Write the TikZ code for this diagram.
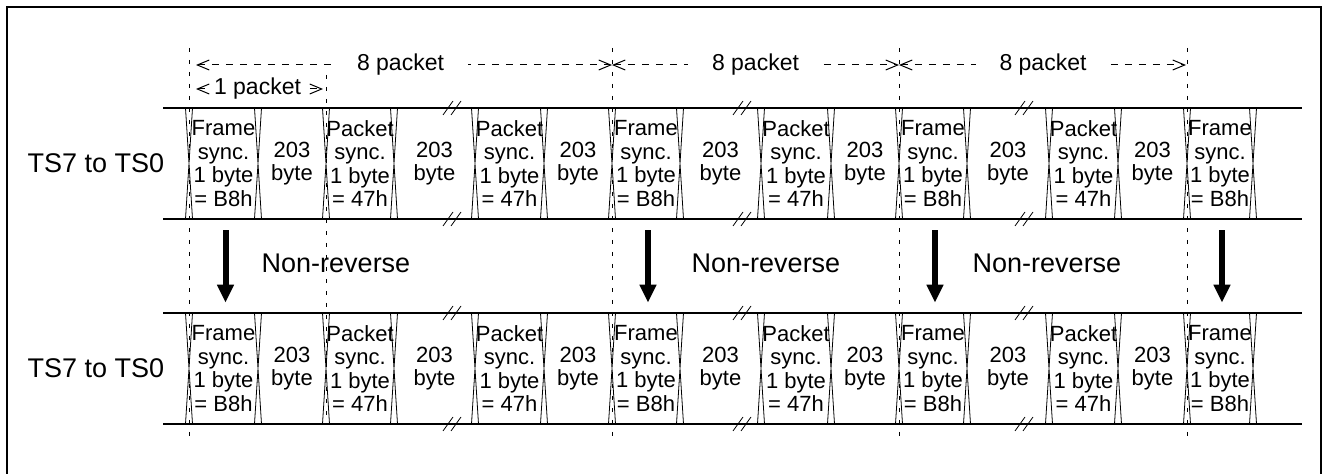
\documentclass[tikz,border=0pt]{standalone}
\usepackage{fontspec}
\setmainfont{Liberation Sans}
\usetikzlibrary{arrows.meta,positioning}
\newcommand{\framesync}{Frame\\sync.\\1 byte\\= B8h}
\newcommand{\packsync}{Packet\\sync.\\1 byte\\= 47h}
\newcommand{\dataword}{203\\byte}

\begin{document}
\begin{tikzpicture}[x=0.5pt,y=-0.5pt,
  cell/.style={inner sep=0pt,minimum height=55.5pt,align=center,font=\fontsize{11}{11.8}\selectfont},
  bus/.style={line width=1pt},
  xing/.style={line width=0.4pt},
  guide/.style={line width=0.5pt,dash pattern=on 2pt off 4pt},
  dimline/.style={line width=0.5pt,dash pattern=on 3.5pt off 3.5pt,{Straight Barb[length=6pt,width=5pt]}-{Straight Barb[length=6pt,width=5pt]}},
  dimlabel/.style={fill=white,inner ysep=1pt,inner xsep=12pt,font=\fontsize{11.5}{13}\selectfont},
  rowlabel/.style={font=\fontsize{13.5}{15}\selectfont},
  flowlabel/.style={font=\fontsize{13.5}{15}\selectfont},
  flow/.style={line width=3pt,-{Triangle[length=9pt,width=8pt]}},
  brk/.style={line width=0.4pt}
]
\useasboundingbox (0,0) rectangle (1324,474);
% outer frame, open at the bottom
\draw[line width=1pt] (6.5,474) -- (6.5,7) -- (1320.5,7) -- (1320.5,474);

% row labels
\node[rowlabel] (tsu) at (96,163.5) {TS7 to TS0};
\node[rowlabel] (tsl) at (96,368.5) {TS7 to TS0};

% bus lines
\draw[bus] (163,108) -- (1302,108);
\draw[bus] (163,219) -- (1302,219);
\draw[bus] (163,313) -- (1302,313);
\draw[bus] (163,424) -- (1302,424);

% byte cells of both rows
\foreach \r/\yc in {u/163.5,l/368.5}
  \foreach \i/\a/\b/\txt in {1/189/258/\framesync,2/258/326/\dataword,3/326/394/\packsync,
      4/394/475/\dataword,5/475/544/\packsync,6/544/612/\dataword,7/612/680/\framesync,
      8/680/761/\dataword,9/761/831/\packsync,10/831/899/\dataword,11/899/967/\framesync,
      12/967/1049/\dataword,13/1049/1118/\packsync,14/1118/1187/\dataword,15/1187/1253/\framesync}
    \node[cell,minimum width={(\b-\a)*0.5pt}] (\r\i) at ({(\a+\b)/2},\yc) {\txt};

% transitions
\foreach \t in {189,258,326,394,475,544,612,680,761,831,899,967,1049,1118,1187,1253}
  \foreach \yt/\yb in {108/219,313/424}
    \draw[xing] (\t-3.5,\yt) -- (\t+3.5,\yb) (\t+3.5,\yt) -- (\t-3.5,\yb);

% break marks
\foreach \bx in {452,742,1024}
  \foreach \by in {108,219,313,424}
    \draw[brk] (\bx-9,\by+7) -- (\bx+1,\by-7) (\bx-1,\by+7) -- (\bx+9,\by-7);

% guide lines
\coordinate (g0) at (189,48);
\coordinate (g1) at (326,75);
\coordinate (g2) at (612,48);
\coordinate (g3) at (899,48);
\coordinate (g4) at (1187,48);
\draw[guide] (g0) -- (189,440);
\draw[guide] (g1) -- (326,424);
\draw[guide] (g2) -- (612,440);
\draw[guide] (g3) -- (899,440);
\draw[guide] (g4) -- (1187,440);

% dimensions
\coordinate (p0) at (189,65);
\coordinate (p1) at (612,65);
\coordinate (p2) at (899,65);
\coordinate (p3) at (1187,65);
\draw[dimline,shorten <=3.5pt] (p0) -- node[dimlabel] (pk1) {8 packet} (p1);
\draw[dimline] (p1) -- node[dimlabel] (pk2) {8 packet} (p2);
\draw[dimline,shorten >=0.5pt] (p2) -- node[dimlabel] (pk3) {8 packet} (p3);
\coordinate (q0) at (189,89);
\coordinate (q1) at (326,89);
\draw[dimline,shorten <=3.5pt,shorten >=1.5pt] (q0) -- node[dimlabel,inner xsep=2pt] (one) {1 packet} (q1);

% non-reverse mapping
\draw[flow,shorten <=5.5pt,shorten >=5pt] ([xshift=1pt]u1.south) -- ([xshift=1pt]l1.north);
\draw[flow,shorten <=5.5pt,shorten >=5pt] ([xshift=1pt]u7.south) -- ([xshift=1pt]l7.north);
\draw[flow,shorten <=5.5pt,shorten >=5pt] ([xshift=1pt]u11.south) -- ([xshift=1pt]l11.north);
\draw[flow,shorten <=5.5pt,shorten >=5pt] ([xshift=1pt]u15.south) -- ([xshift=1pt]l15.north);
\node[flowlabel] (nr1) at (336,263) {Non-reverse};
\node[flowlabel] (nr2) at (766,263) {Non-reverse};
\node[flowlabel] (nr3) at (1047,263) {Non-reverse};
\end{tikzpicture}
\end{document}
